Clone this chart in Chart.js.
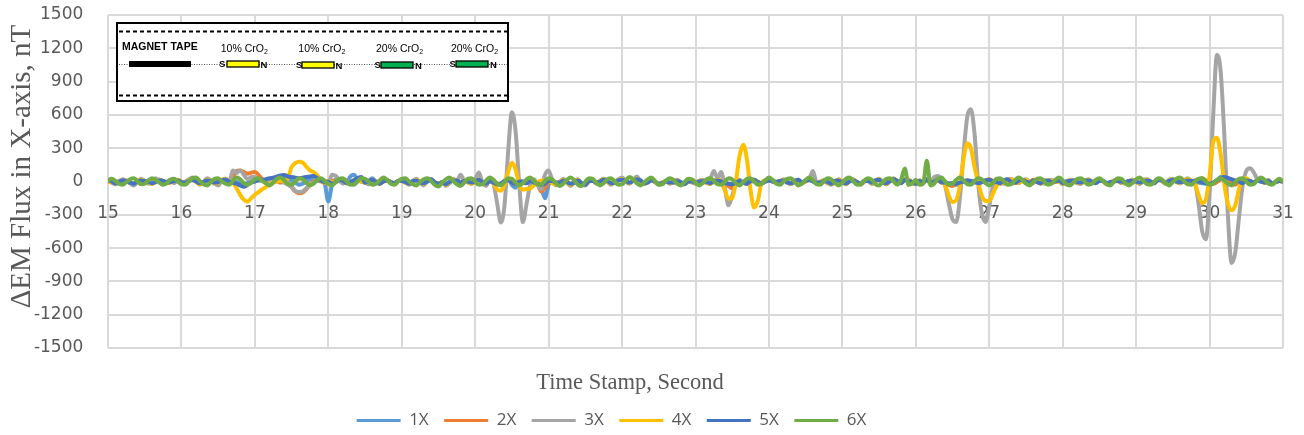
<!DOCTYPE html>
<html><head><meta charset="utf-8">
<script src="https://cdn.jsdelivr.net/npm/chart.js@4.4.0/dist/chart.umd.min.js"></script>
<style>html,body{margin:0;padding:0;background:#fff;overflow:hidden}#wrap{width:1304px;height:435px;position:relative}</style>
</head><body><div id="wrap"><canvas id="c" width="1304" height="435"></canvas></div>
<script>
const times = [
15,15.05,15.1,15.15,15.2,15.25,15.3,15.35,15.4,15.45,15.5,15.55,15.6,15.65,15.7,15.75,15.8,15.85,15.9,15.95,
16,16.05,16.1,16.15,16.2,16.25,16.3,16.35,16.4,16.45,16.5,16.55,16.6,16.65,16.7,16.75,16.8,16.85,16.9,16.95,
17,17.05,17.1,17.15,17.2,17.25,17.3,17.35,17.4,17.45,17.5,17.55,17.6,17.65,17.7,17.75,17.8,17.85,17.9,17.95,
18,18.05,18.1,18.15,18.2,18.25,18.3,18.35,18.4,18.45,18.5,18.55,18.6,18.65,18.7,18.75,18.8,18.85,18.9,18.95,
19,19.05,19.1,19.15,19.2,19.25,19.3,19.35,19.4,19.45,19.5,19.55,19.6,19.65,19.7,19.75,19.8,19.85,19.9,19.95,
20,20.05,20.1,20.15,20.2,20.25,20.3,20.35,20.4,20.45,20.5,20.55,20.6,20.65,20.7,20.75,20.8,20.85,20.9,20.95,
21,21.05,21.1,21.15,21.2,21.25,21.3,21.35,21.4,21.45,21.5,21.55,21.6,21.65,21.7,21.75,21.8,21.85,21.9,21.95,
22,22.05,22.1,22.15,22.2,22.25,22.3,22.35,22.4,22.45,22.5,22.55,22.6,22.65,22.7,22.75,22.8,22.85,22.9,22.95,
23,23.05,23.1,23.15,23.2,23.25,23.3,23.35,23.4,23.45,23.5,23.55,23.6,23.65,23.7,23.75,23.8,23.85,23.9,23.95,
24,24.05,24.1,24.15,24.2,24.25,24.3,24.35,24.4,24.45,24.5,24.55,24.6,24.65,24.7,24.75,24.8,24.85,24.9,24.95,
25,25.05,25.1,25.15,25.2,25.25,25.3,25.35,25.4,25.45,25.5,25.55,25.6,25.65,25.7,25.75,25.8,25.85,25.9,25.95,
26,26.05,26.1,26.15,26.2,26.25,26.3,26.35,26.4,26.45,26.5,26.55,26.6,26.65,26.7,26.75,26.8,26.85,26.9,26.95,
27,27.05,27.1,27.15,27.2,27.25,27.3,27.35,27.4,27.45,27.5,27.55,27.6,27.65,27.7,27.75,27.8,27.85,27.9,27.95,
28,28.05,28.1,28.15,28.2,28.25,28.3,28.35,28.4,28.45,28.5,28.55,28.6,28.65,28.7,28.75,28.8,28.85,28.9,28.95,
29,29.05,29.1,29.15,29.2,29.25,29.3,29.35,29.4,29.45,29.5,29.55,29.6,29.65,29.7,29.75,29.8,29.85,29.9,29.95,
30,30.05,30.1,30.15,30.2,30.25,30.3,30.35,30.4,30.45,30.5,30.55,30.6,30.65,30.7,30.75,30.8,30.85,30.9,30.95,
31];

const seriesNames = ['1X','2X','3X','4X','5X','6X'];

const s1X = [
10,-5,-25,0,10,5,-15,-20,0,10,5,-10,-15,0,15,5,-10,-5,10,5,
-5,-10,5,15,0,-15,-5,10,5,-10,-5,10,15,0,-10,-5,-20,-30,-15,0,
10,20,15,0,10,20,30,25,30,20,10,-10,-30,-20,0,20,10,5,0,-20,
-180,-30,15,5,-10,-5,45,60,10,0,-10,5,30,-5,-20,0,10,-5,-15,5,
10,-10,-15,0,15,-5,-15,5,15,-10,-20,-5,-25,-10,15,5,-15,10,-5,-15,
0,15,-5,-15,5,-10,-30,-20,10,20,-30,-55,10,0,-10,5,-10,-20,-60,-150,
-30,10,-15,-5,15,-10,-25,-5,15,-20,-25,0,10,-15,5,25,5,-20,-5,15,
25,10,-15,10,30,5,-20,-5,15,-5,-25,-10,5,-15,-5,10,-10,-20,5,-5,
-15,5,10,-10,-20,0,15,5,-20,-30,-25,-10,5,-10,-20,5,15,-5,-15,0,
5,10,-5,-10,10,0,-15,10,5,-15,5,15,0,-20,-10,5,-5,-20,5,10,
0,-15,10,10,-15,-20,5,5,-10,10,15,-10,-15,5,20,5,-5,15,5,-15,
-15,10,-5,15,-15,5,10,-10,-10,-20,-15,-30,-10,0,10,5,-5,-15,-5,10,
10,5,-10,-10,5,15,-10,-5,10,10,5,-15,5,0,-10,10,5,-10,5,5,
-15,-10,5,10,-5,-20,10,10,-10,-5,5,5,-15,-15,10,5,-10,-10,5,5,
0,-20,5,10,-10,-5,15,10,-10,5,15,0,-15,10,10,5,5,-10,-15,-20,
-30,-10,10,40,50,30,10,-5,10,-15,10,5,-10,10,0,-10,5,-15,-5,5,
0];

const s2X = [
0,-10,-15,5,10,0,-10,-25,-5,15,5,-10,-20,0,15,0,-15,-5,10,10,
-10,-5,10,20,0,-20,-10,15,10,-15,-5,15,25,5,40,95,100,85,70,80,
85,60,20,0,10,15,5,-10,-5,-20,-50,-90,-105,-100,-70,-30,0,10,5,-10,
-20,10,-5,15,5,-15,-5,10,20,0,-10,5,15,-5,-20,0,10,-5,-15,5,
5,-10,-20,0,15,-5,-20,5,15,-10,-25,-5,-30,-10,15,5,-15,10,-5,-15,
0,15,-5,-20,5,-10,-30,-25,0,15,-10,-20,0,-10,-15,5,-10,-30,-90,-60,
0,10,-15,-5,15,-10,-25,-5,15,-20,-25,0,10,-15,5,20,0,-20,-5,15,
20,0,-15,10,25,5,-20,-5,15,-5,-25,-10,5,-15,-5,10,-10,-20,5,-5,
-15,5,10,-10,-20,0,15,5,-20,-40,-60,-20,5,-10,-20,5,15,-5,-15,0,
15,0,-5,5,10,-10,-15,10,5,-5,5,15,10,-20,0,5,-15,-20,5,10,
0,-25,10,10,-5,-20,5,15,-20,0,15,0,-25,5,20,5,-15,15,15,-5,
-25,10,-5,15,-15,5,10,-10,-10,-30,-40,-20,-10,0,10,5,-5,-15,-5,10,
20,5,0,-20,5,15,0,-15,10,10,5,-15,15,0,-20,10,5,-10,5,5,
-15,0,5,10,-15,-10,10,10,-10,-5,15,5,-15,-15,10,5,-10,-10,5,15,
0,-20,15,10,-10,-5,15,10,-20,15,15,0,-15,10,10,5,10,20,30,10,
-10,-20,-5,20,40,30,-10,-30,10,20,10,5,-10,10,0,-10,5,-15,-5,5,
0];

const s3X = [
10,-5,-25,0,20,5,-15,-35,-5,25,0,-20,5,30,-5,-25,0,15,-15,5,
-25,-5,20,35,0,-30,-5,30,10,-20,-35,5,25,-5,100,75,100,60,20,40,
40,20,10,0,-5,10,20,5,-10,-30,-50,-85,-95,-90,-60,-30,-10,10,25,5,
-20,60,50,10,-20,5,-15,-30,0,20,-5,-25,10,0,-20,5,15,-15,-25,5,
20,-5,-30,0,25,-10,-35,5,20,-25,-40,-5,-40,-15,25,0,60,10,-5,-20,
20,80,-10,-40,20,-20,-200,-370,-210,280,625,455,-30,-365,-200,-30,20,-30,-70,60,
100,10,-35,-5,25,-10,-40,-5,20,-25,-35,0,15,-20,5,25,0,-30,-5,20,
35,0,-20,10,45,5,-25,0,20,-5,-30,-10,5,-20,-5,15,-10,-25,5,-5,
-20,5,15,-10,20,95,30,85,-60,-215,-130,-20,15,-10,0,-5,10,-10,-20,5,
15,5,-15,0,20,-5,-25,5,15,-10,0,25,95,-15,-5,15,-15,-30,0,20,
-5,-25,5,20,-10,-30,0,15,-20,5,25,-5,-25,10,30,0,-15,25,10,-15,
-20,5,-10,20,-10,40,50,20,-40,-200,-340,-365,-150,250,580,650,430,-20,-290,-365,
-220,-40,20,-5,-20,10,25,-5,-15,5,20,0,-15,10,-5,-20,5,15,-5,0,
-25,-5,15,5,-15,-20,5,20,-5,-15,15,0,-25,-10,5,15,-5,-20,0,15,
-5,-20,15,20,-5,-15,25,5,-20,15,25,-5,-15,5,30,10,-10,-200,-450,-520,
-120,600,1140,1000,430,-310,-735,-640,-330,-40,95,120,85,20,0,-10,15,-20,-5,10,
0];

const s4X = [
5,-10,0,-15,-5,10,-10,-15,5,15,5,-10,-20,-5,10,-5,-15,-10,5,15,
0,-15,10,20,-5,-25,-10,15,5,-15,-10,10,20,0,-10,-60,-120,-165,-182,-150,
-120,-95,-70,-50,-25,-10,0,10,0,30,130,165,178,172,135,100,85,55,5,-10,
5,-10,0,15,5,-15,-5,10,20,0,-10,5,15,-5,-20,0,10,-5,-15,5,
10,-10,-20,0,15,-5,-20,5,15,-10,-25,-5,-30,-10,15,5,-15,10,-5,-20,
0,15,-5,-20,5,-20,-70,-83,-30,90,168,110,-30,-72,-68,-62,-35,-5,10,5,
10,-15,-25,-5,15,-10,-30,-5,15,-20,-25,0,10,-15,5,20,0,-20,-5,15,
20,0,-15,10,25,5,-20,-5,15,-5,-25,-10,5,-15,-5,10,-10,-20,5,-5,
-15,5,10,-10,-20,0,15,0,-80,-155,-150,0,230,330,200,-80,-235,-170,-10,10,
10,5,-10,0,15,-5,-20,5,10,-10,0,20,5,-15,-5,10,-10,-25,0,15,
-5,-20,5,15,-10,-25,0,10,-15,5,20,-5,-20,10,25,0,-10,20,10,-10,
-20,5,-10,20,-10,0,15,-5,-30,-130,-185,-170,-40,200,345,300,130,-10,-130,-175,
-175,-110,-40,5,-15,10,20,-5,-10,5,15,0,-10,10,-5,-15,5,10,-5,0,
-20,-5,10,5,-10,-15,5,15,-5,-10,10,0,-20,-10,5,10,-5,-15,0,10,
-5,-15,10,15,-5,-10,20,5,-15,10,20,-5,-10,5,20,10,-20,-120,-195,-160,
50,360,395,250,-20,-200,-260,-215,-70,25,30,5,-10,10,0,-10,5,-15,-5,5,
0];

const s5X = [
15,0,-15,-5,10,5,-10,-20,0,10,5,-5,-15,-5,10,5,-10,-5,5,10,
-5,-10,5,15,0,-15,-5,10,5,-10,-5,10,15,0,-10,-20,-35,-47,-30,-10,
0,10,15,20,30,35,45,55,58,45,40,35,30,35,40,45,50,30,10,-5,
0,-20,-5,15,5,-15,-5,10,30,40,-10,5,15,-5,-20,0,10,-5,-15,5,
5,-5,-20,5,10,-10,-15,0,20,-5,-20,-10,-25,-5,10,10,-10,5,0,-10,
0,15,-5,-20,5,-10,-25,-20,0,15,-10,-20,0,-10,-15,5,-10,-20,-30,-20,
5,5,-10,-10,10,-5,-20,-10,10,-15,-30,5,5,-10,0,15,5,-15,-10,10,
15,5,-10,5,20,10,-15,-10,10,0,-20,-15,0,-10,-10,5,-5,-25,0,0,
-10,0,5,-5,-15,5,10,0,-15,-20,-25,-10,5,-10,-20,5,15,-5,-15,0,
10,0,-5,5,10,-10,-15,0,15,-5,5,15,0,-10,-10,5,-5,-20,5,10,
-10,-15,0,10,-5,-20,5,5,-10,10,15,-10,-15,5,20,5,-15,15,5,-5,
-20,5,-10,20,-10,0,15,-5,-10,-20,-15,-20,-10,0,10,5,-5,-15,-5,10,
15,0,-5,-15,10,20,-5,-10,5,15,0,-10,10,-5,-15,5,10,-5,0,10,
-15,0,5,10,-5,-10,10,10,0,-15,5,5,-15,-5,0,5,0,-10,5,5,
0,-10,5,10,0,-15,15,10,-10,5,15,0,-5,0,10,5,5,0,-5,-15,
-20,-10,10,30,40,30,20,10,0,-15,10,5,-10,10,0,-10,5,-15,-5,5,
0];

const s6X = [
10,25,5,-20,-30,-5,20,30,5,-25,-20,10,30,15,-10,-30,-15,15,25,0,
-25,-30,0,30,35,5,-25,-35,-5,25,30,0,-20,-30,5,35,20,-15,-30,-10,
20,30,5,-15,-35,-10,25,35,10,-20,-30,0,30,20,-10,-35,-20,15,30,5,
-20,-35,-5,25,30,0,-30,-25,5,30,25,-5,-30,-20,10,35,15,-20,-30,0,
25,30,0,-25,-35,-5,20,30,5,-30,-45,-10,20,35,5,-25,-40,-10,25,30,
0,-30,-25,10,35,15,-20,-35,-5,30,25,-10,-35,-15,20,35,5,-25,-30,5,
30,20,-15,-40,-20,15,35,10,-30,-40,0,30,25,-10,-35,-15,20,30,0,-30,
-25,10,40,20,-15,-35,-10,20,35,5,-30,-25,10,30,15,-20,-35,-5,25,20,
-10,-35,-15,20,30,5,-25,-30,0,30,20,-15,-35,-5,25,30,0,-30,-20,10,
35,15,-20,-30,0,25,30,-5,-35,-20,15,35,10,-25,-30,5,30,20,-15,-35,
-10,25,35,0,-30,-25,10,30,15,-25,-35,-5,25,30,0,-30,20,118,-30,-20,
15,-30,-20,187,-35,-20,25,35,0,-30,-20,15,35,10,-25,-30,5,30,20,-15,
-35,-10,25,30,0,-30,-25,10,35,15,-20,-35,-5,25,30,0,-30,-20,15,35,
10,-25,-35,-5,25,30,0,-30,-20,15,30,5,-25,-35,0,30,25,-10,-35,-15,
20,35,5,-25,-30,0,30,20,-15,-35,-5,25,35,5,-25,-30,0,25,30,0,
-30,-20,15,30,10,-20,-35,-5,25,30,0,-30,-25,10,35,15,-20,-30,0,25,
0];

const seriesValues = [s1X, s2X, s3X, s4X, s5X, s6X];
const seriesColors = ['#5B9BD5','#ED7D31','#A5A5A5','#FFC000','#4472C4','#70AD47'];

const yTitle = 'ΔEM Flux in X-axis, nT';
const xTitle = 'Time Stamp, Second';
const insetHeader = 'MAGNET TAPE';
const insetLabels = ['10% CrO', '10% CrO', '20% CrO', '20% CrO'];

const datasets = seriesNames.map((name, i) => ({
  label: name,
  data: seriesValues[i],
  borderColor: seriesColors[i],
  backgroundColor: seriesColors[i],
  pointBorderColor: seriesColors[i],
  pointBackgroundColor: seriesColors[i],
  pointBorderWidth: 3,
  borderWidth: 4,
  pointRadius: 0,
  pointHoverRadius: 0,
  borderCapStyle: 'round',
  borderJoinStyle: 'round',
  cubicInterpolationMode: 'monotone',
  fill: false,
  order: seriesNames.length - i
}));

const insetPlugin = {
  id: 'inset',
  afterDatasetsDraw(chart) {
    const c = chart.ctx;
    c.save();
    c.fillStyle = '#fff';
    c.fillRect(116, 22, 393, 80);
    c.strokeStyle = '#000';
    c.lineWidth = 2;
    c.strokeRect(117, 23, 391, 78);
    c.setLineDash([4, 3]);
    c.beginPath();
    c.moveTo(119, 31.5); c.lineTo(507, 31.5);
    c.moveTo(119, 95.5); c.lineTo(507, 95.5);
    c.stroke();
    c.setLineDash([1, 1.5]);
    c.lineWidth = 1;
    c.strokeStyle = '#555';
    c.beginPath();
    c.moveTo(119, 64.5); c.lineTo(507, 64.5);
    c.stroke();
    c.setLineDash([]);
    c.fillStyle = '#000';
    c.fillRect(129, 61, 62, 6);
    c.font = 'bold 10.5px "Liberation Sans", Arial, sans-serif';
    c.textBaseline = 'alphabetic';
    c.textAlign = 'left';
    c.fillText(insetHeader, 122, 49.5);
    const lx = [220.7, 298.3, 376, 451];
    const mags = [
      {x: 227, y: 61, s: 219, n: 260.5, f: '#FFFF00'},
      {x: 302, y: 62, s: 296, n: 335.5, f: '#FFFF00'},
      {x: 381, y: 62, s: 374.5, n: 415, f: '#00B050'},
      {x: 456, y: 61, s: 449.5, n: 490, f: '#00B050'}
    ];
    insetLabels.forEach((t, i) => {
      c.font = '10.5px "Liberation Sans", Arial, sans-serif';
      c.fillStyle = '#000';
      c.fillText(t, lx[i], 51.5);
      const w = c.measureText(t).width;
      c.font = '7px "Liberation Sans", Arial, sans-serif';
      c.fillText('2', lx[i] + w, 53.8);
      const m = mags[i];
      c.fillStyle = m.f;
      c.fillRect(m.x, m.y, 32, 6);
      c.strokeStyle = '#000';
      c.lineWidth = 1.3;
      c.strokeRect(m.x, m.y, 32, 6);
      c.fillStyle = '#000';
      c.font = 'bold 9.5px "Liberation Sans", Arial, sans-serif';
      c.textBaseline = 'middle';
      c.fillText('S', m.s, m.y + 3.5);
      c.fillText('N', m.n, m.y + 4);
      c.textBaseline = 'alphabetic';
    });
    c.restore();
  }
};

const shiftPlugin = {
  id: 'shift',
  afterLayout(chart) {
    if (chart.titleBlock) { chart.titleBlock.right -= 23; }
    if (chart.legend) { chart.legend.left -= 30; chart.legend.right -= 30; }
    const ys = chart.scales.y;
    if (ys && !ys._patched) {
      const orig = ys.drawTitle.bind(ys);
      ys.drawTitle = function() { const c = chart.ctx; c.save(); c.translate(0, -15); orig(); c.restore(); };
      ys._patched = true;
    }
  }
};

const tickFont = {family: '"DejaVu Sans", sans-serif', size: 17};

new Chart(document.getElementById('c').getContext('2d'), {
  type: 'line',
  data: { labels: times, datasets: datasets },
  options: {
    responsive: false,
    animation: false,
    devicePixelRatio: 1,
    events: [],
    layout: { padding: { left: 0, top: 15, right: 21, bottom: 0 } },
    plugins: {
      tooltip: { enabled: false },
      title: {
        display: true, text: xTitle, position: 'bottom', weight: 500,
        color: '#595959',
        font: { family: '"Liberation Serif", "Times New Roman", serif', size: 22.5, weight: 'normal', lineHeight: 1 },
        padding: { top: 23.75, bottom: 2.25 }
      },
      legend: {
        position: 'bottom',
        maxHeight: 38.5,
        labels: {
          usePointStyle: true,
          pointStyle: 'line',
          pointStyleWidth: 44,
          color: '#595959',
          font: { family: '"Open Sans", sans-serif', size: 17 },
          padding: 15.5,
          sort: (a, b) => a.datasetIndex - b.datasetIndex
        }
      }
    },
    scales: {
      x: {
        type: 'linear',
        min: 15, max: 31,
        position: { y: 0 },
        border: { display: false },
        grid: { color: '#d9d9d9', lineWidth: 2, drawTicks: false },
        ticks: { stepSize: 1, autoSkip: false, maxRotation: 0, color: '#595959', font: tickFont, padding: 21.8 },
        afterFit(s) { s.paddingLeft = 0; s.paddingRight = 0; }
      },
      y: {
        min: -1500, max: 1500,
        border: { display: false },
        grid: { color: '#d9d9d9', lineWidth: 2, drawTicks: false },
        ticks: { stepSize: 300, color: '#595959', font: tickFont, padding: 24.7, callback: (v) => String(v) },
        title: {
          display: true, text: yTitle, color: '#595959',
          font: { family: '"Liberation Serif", "Times New Roman", serif', size: 29, weight: 'normal', lineHeight: 1 },
          padding: { top: 7.5, bottom: 0 }
        },
        afterFit(s) { s.width = 108; s.paddingTop = 0; s.paddingBottom = 0; }
      }
    }
  },
  plugins: [insetPlugin, shiftPlugin]
});
</script>
</body></html>
